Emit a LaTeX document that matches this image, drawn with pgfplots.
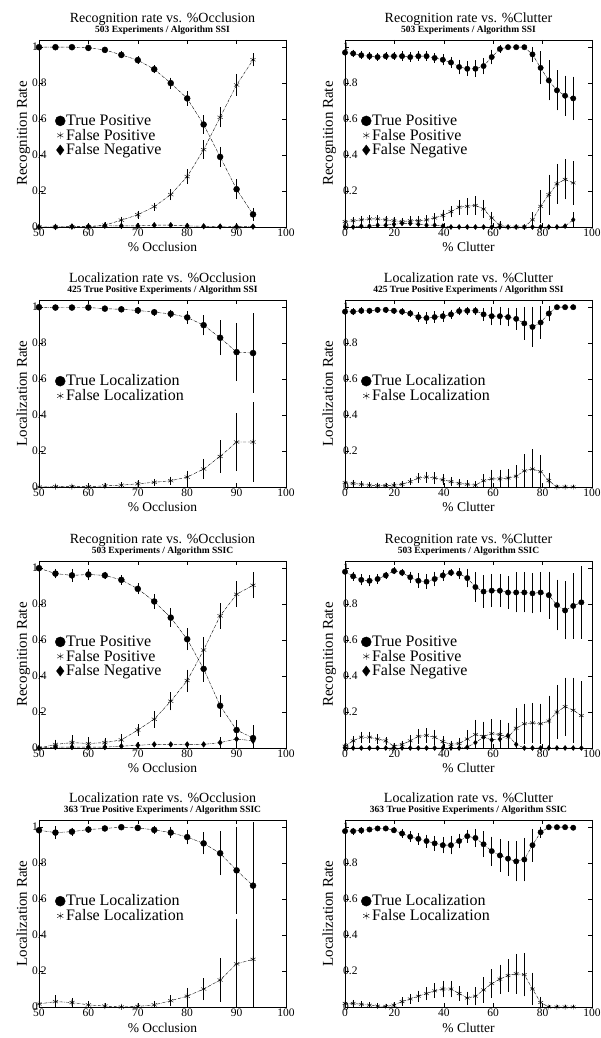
\documentclass[border=0pt]{standalone}
\usepackage{fontspec}
\setmainfont{Liberation Serif}
\usepackage{pgfplots}
\usepackage{pgfplotstable}
\pgfplotsset{compat=1.18}

% Recognition vs occlusion, SSI
\pgfplotstableread{
x tp tpe fp fpe fn fne
50 1.0 0 0 0 0 0
53.33 1.0 0 0 0 0 0
56.67 1.0 0 0 0 0.003 0
60 0.996 0.003 0.002 0.002 0.003 0
63.33 0.985 0.005 0.01 0.005 0.007 0
66.67 0.957 0.008 0.038 0.008 0.006 0
70 0.928 0.01 0.068 0.01 0.006 0
73.33 0.877 0.012 0.113 0.012 0.01 0
76.67 0.80 0.02 0.18 0.02 0.01 0
80 0.715 0.03 0.28 0.03 0.006 0
83.33 0.57 0.04 0.43 0.04 0.004 0
86.67 0.39 0.045 0.61 0.045 0.003 0
90 0.21 0.045 0.79 0.05 0.002 0
93.33 0.07 0.025 0.93 0.025 0.002 0
}\tA
% Recognition vs clutter, SSI
\pgfplotstableread{
x tp tpe fp fpe fn fne
0 0.97 0.01 0.03 0.01 0 0
3.3 0.965 0.01 0.035 0.01 0 0
6.6 0.955 0.01 0.04 0.01 0.005 0
9.9 0.95 0.01 0.045 0.01 0.005 0
13.2 0.945 0.01 0.045 0.01 0.01 0
16.5 0.95 0.01 0.04 0.01 0.01 0
19.8 0.95 0.01 0.035 0.01 0.015 0
23.1 0.95 0.015 0.03 0.01 0.02 0
26.4 0.945 0.015 0.035 0.015 0.02 0
29.7 0.95 0.015 0.035 0.015 0.015 0
33 0.95 0.015 0.04 0.015 0.01 0
36.3 0.94 0.015 0.05 0.015 0.01 0
39.6 0.93 0.02 0.065 0.02 0.005 0
42.9 0.915 0.02 0.085 0.02 0 0
46.2 0.89 0.03 0.11 0.03 0 0
49.5 0.88 0.03 0.115 0.035 0 0
52.8 0.88 0.035 0.12 0.04 0 0
56.1 0.895 0.035 0.10 0.04 0 0
59.4 0.945 0.03 0.05 0.025 0 0
62.7 0.99 0.01 0.01 0.01 0 0
66 1.0 0 0 0 0 0
69.3 1.0 0 0 0 0 0
72.6 1.0 0 0 0 0 0
75.9 0.96 0.03 0.04 0.03 0 0
79.2 0.885 0.08 0.115 0.08 0 0
82.5 0.815 0.1 0.18 0.1 0 0
85.8 0.76 0.1 0.24 0.1 0 0
89.1 0.73 0.1 0.265 0.1 0.005 0
92.4 0.715 0.11 0.245 0.11 0.04 0.03
}\tB
% Localization vs occlusion, SSI
\pgfplotstableread{
x tl tle fl fle
50 1.0 0 0 0
53.33 0.998 0 0.002 0
56.67 0.998 0 0.002 0
60 0.998 0.003 0.002 0.003
63.33 0.992 0.004 0.006 0.004
66.67 0.988 0.005 0.01 0.005
70 0.982 0.007 0.018 0.007
73.33 0.972 0.008 0.026 0.008
76.67 0.963 0.012 0.035 0.012
80 0.943 0.025 0.055 0.025
83.33 0.90 0.045 0.10 0.045
86.67 0.83 0.085 0.17 0.08
90 0.75 0.15 0.25 0.15
93.33 0.745 0.21 0.25 0.21
}\tC
% Localization vs clutter, SSI
\pgfplotstableread{
x tl tle fl fle
0 0.975 0.008 0.025 0.008
3.3 0.975 0.008 0.02 0.008
6.6 0.98 0.008 0.015 0.005
9.9 0.98 0.005 0.01 0.005
13.2 0.985 0.005 0.008 0.005
16.5 0.985 0.005 0.008 0.005
19.8 0.98 0.005 0.01 0.005
23.1 0.975 0.008 0.015 0.008
26.4 0.965 0.01 0.03 0.01
29.7 0.945 0.015 0.05 0.015
33 0.94 0.02 0.055 0.02
36.3 0.945 0.02 0.05 0.02
39.6 0.95 0.02 0.04 0.02
42.9 0.96 0.015 0.03 0.015
46.2 0.978 0.012 0.02 0.012
49.5 0.98 0.01 0.015 0.01
52.8 0.98 0.01 0.01 0.01
56.1 0.96 0.025 0.035 0.025
59.4 0.95 0.04 0.045 0.04
62.7 0.95 0.04 0.045 0.04
66 0.945 0.04 0.05 0.04
69.3 0.935 0.05 0.06 0.05
72.6 0.91 0.08 0.09 0.08
75.9 0.89 0.1 0.10 0.1
79.2 0.915 0.08 0.085 0.08
82.5 0.965 0.03 0.035 0.03
85.8 1.0 0 0 0
89.1 1.0 0 0 0
92.4 1.0 0 0 0
}\tD
% Recognition vs occlusion, SSIC
\pgfplotstableread{
x tp tpe fp fpe fn fne
50 1.0 0 0 0 0 0
53.33 0.97 0.015 0.02 0.015 0.005 0.005
56.67 0.96 0.025 0.03 0.03 0.005 0.005
60 0.965 0.02 0.025 0.025 0.005 0.005
63.33 0.96 0.01 0.03 0.015 0.005 0.005
66.67 0.935 0.015 0.045 0.02 0.01 0.005
70 0.885 0.02 0.10 0.02 0.015 0.005
73.33 0.815 0.03 0.16 0.035 0.02 0.005
76.67 0.725 0.04 0.26 0.04 0.02 0.005
80 0.605 0.05 0.375 0.05 0.02 0.005
83.33 0.44 0.06 0.545 0.06 0.02 0.005
86.67 0.235 0.05 0.735 0.06 0.03 0.02
90 0.10 0.045 0.855 0.06 0.05 0.04
93.33 0.055 0.06 0.905 0.06 0.04 0.05
}\tE
% Recognition vs clutter, SSIC
\pgfplotstableread{
x tp tpe fp fpe fn fne
0 0.98 0.01 0.01 0.01 0 0
3.3 0.955 0.015 0.04 0.015 0 0
6.6 0.935 0.02 0.06 0.02 0 0
9.9 0.93 0.02 0.06 0.02 0 0
13.2 0.94 0.015 0.05 0.015 0 0
16.5 0.96 0.01 0.04 0.01 0 0
19.8 0.985 0.008 0.01 0.008 0 0
23.1 0.975 0.01 0.02 0.01 0 0
26.4 0.95 0.02 0.04 0.02 0 0
29.7 0.93 0.03 0.065 0.03 0 0
33 0.925 0.03 0.07 0.03 0 0
36.3 0.94 0.03 0.06 0.03 0 0
39.6 0.96 0.02 0.035 0.02 0 0
42.9 0.975 0.01 0.02 0.01 0 0
46.2 0.97 0.02 0.025 0.02 0 0
49.5 0.945 0.04 0.05 0.04 0.005 0
52.8 0.895 0.07 0.075 0.07 0.03 0.03
56.1 0.87 0.08 0.065 0.07 0.06 0.04
59.4 0.875 0.08 0.08 0.07 0.045 0.04
62.7 0.875 0.08 0.075 0.07 0.05 0.04
66 0.865 0.08 0.06 0.07 0.07 0.05
69.3 0.865 0.1 0.11 0.1 0.02 0.02
72.6 0.865 0.1 0.135 0.1 0 0
75.9 0.86 0.1 0.14 0.1 0 0
79.2 0.865 0.1 0.135 0.1 0 0
82.5 0.85 0.12 0.15 0.13 0 0
85.8 0.795 0.13 0.20 0.14 0 0
89.1 0.765 0.15 0.23 0.15 0 0
92.4 0.79 0.17 0.21 0.17 0 0
95.7 0.81 0.19 0.18 0.18 0 0
}\tF
% Localization vs occlusion, SSIC
\pgfplotstableread{
x tl tle fl fle
50 0.983 0.015 0.017 0.01
53.33 0.97 0.025 0.03 0.025
56.67 0.975 0.012 0.025 0.015
60 0.987 0.008 0.012 0.008
63.33 0.993 0.005 0.005 0.005
66.67 1.0 0 0 0
70 0.996 0.004 0.003 0.004
73.33 0.985 0.01 0.012 0.01
76.67 0.97 0.02 0.035 0.02
80 0.945 0.03 0.06 0.035
83.33 0.91 0.05 0.10 0.05
86.67 0.855 0.11 0.15 0.11
90 0.76 0.23 0.24 0.24
93.33 0.675 0.34 0.265 0.34
}\tG
% Localization vs clutter, SSIC
\pgfplotstableread{
x tl tle fl fle
0 0.978 0.008 0.02 0.008
3.3 0.978 0.008 0.02 0.008
6.6 0.982 0.006 0.015 0.006
9.9 0.987 0.005 0.01 0.005
13.2 0.993 0.004 0.005 0.004
16.5 0.993 0.004 0.003 0.004
19.8 0.983 0.006 0.01 0.006
23.1 0.965 0.012 0.03 0.012
26.4 0.947 0.018 0.045 0.015
29.7 0.935 0.022 0.06 0.02
33 0.923 0.025 0.075 0.025
36.3 0.91 0.03 0.09 0.03
39.6 0.90 0.035 0.10 0.035
42.9 0.90 0.04 0.10 0.035
46.2 0.923 0.03 0.075 0.03
49.5 0.95 0.025 0.05 0.025
52.8 0.94 0.04 0.06 0.04
56.1 0.905 0.06 0.095 0.06
59.4 0.867 0.07 0.13 0.07
62.7 0.843 0.08 0.155 0.07
66 0.825 0.085 0.175 0.08
69.3 0.81 0.1 0.185 0.1
72.6 0.82 0.11 0.18 0.11
75.9 0.90 0.08 0.10 0.08
79.2 0.972 0.02 0.025 0.02
82.5 1.0 0 0 0
85.8 1.0 0 0 0
89.1 1.0 0 0 0
92.4 0.997 0 0 0
}\tH

\pgfplotsset{
  panel/.style={
    anchor=south west,
    scale only axis, width=247pt, height=187pt,
    ymin=0, ymax=1.04,
    ytick={0,0.2,0.4,0.6,0.8,1},
    yticklabels={0,0.2,0.4,0.6,0.8,1},
    tick align=inside, major tick length=4pt,
    axis line style={line width=0.6pt},
    tick style={line width=0.5pt, black},
    ticklabel style={font=\fontsize{11.5}{11.5}\selectfont},
    /pgf/number format/assume math mode=true,
    xticklabel style={inner sep=0pt, anchor=north, yshift=-1.5pt},
    title style={align=center, inner sep=0pt, anchor=south, at={(axis description cs:0.5,1)}, yshift=-1pt, font=\fontsize{14}{10.5}\selectfont},
    xlabel style={font=\fontsize{13.5}{13.5}\selectfont, at={(axis description cs:0.5,0)}, anchor=base, yshift=-25pt, inner sep=0pt},
    ylabel style={font=\fontsize{15}{15}\selectfont, at={(axis description cs:-0.049,0.5)}, anchor=base, inner sep=0pt},
    legend style={at={(axis description cs:0.065,0.605)}, anchor=north west, draw=none, fill=none,
      font=\fontsize{16}{14}\selectfont, row sep=0.5pt, inner sep=0pt, nodes={inner sep=0.8pt}},
    legend cell align=left,
    legend image code/.code={\draw[##1] plot coordinates {(0.17cm,0cm)};},
  },
  occ/.style={xmin=50, xmax=100, xtick={50,60,70,80,90,100}, xlabel={\% Occlusion},
    yticklabel style={inner sep=0pt, anchor=west, xshift=-7pt}},
  clu/.style={xmin=0, xmax=100, xtick={0,20,40,60,80,100}, xlabel={\% Clutter},
    yticklabel style={inner sep=0pt, anchor=west, xshift=-2pt}},
  pl/.style={black, densely dashdotted, line width=0.4pt, mark options={solid, fill=black}, forget plot,
    error bars/y dir=both, error bars/y explicit,
    error bars/error bar style={solid, line width=0.5pt},
    error bars/error mark options={solid, mark size=2pt, line width=0.5pt}},
}
\newcommand{\sub}[1]{{\fontsize{9.5}{9.5}\bfseries\selectfont #1}}
\newcommand{\legrec}{%
  \addlegendimage{only marks, mark=*, mark size=5pt, black}\addlegendentry{True Positive}
  \addlegendimage{only marks, mark=asterisk, mark size=3.5pt, black}\addlegendentry{False Positive}
  \addlegendimage{only marks, mark=diamond*, mark size=5pt, black}\addlegendentry{False Negative}}
\newcommand{\legloc}{%
  \addlegendimage{only marks, mark=*, mark size=5pt, black}\addlegendentry{True Localization}
  \addlegendimage{only marks, mark=asterisk, mark size=3.5pt, black}\addlegendentry{False Localization}}

\begin{document}
\begin{tikzpicture}
\path[use as bounding box] (0,0) rectangle (601pt,1038pt);

% Row 1
\begin{axis}[panel, occ, at={(39pt,811pt)}, ylabel={Recognition Rate},
  title={Recognition rate vs. \%Occlusion\\\sub{503 Experiments / Algorithm SSI}}]
\legrec
\addplot+[pl, mark=*, mark size=3pt] table[x=x, y=tp, y error=tpe] {\tA};
\addplot+[pl, mark=asterisk, mark size=3pt] table[x=x, y=fp, y error=fpe] {\tA};
\addplot+[pl, mark=diamond*, mark size=2.8pt] table[x=x, y=fn, y error=fne] {\tA};
\end{axis}

\begin{axis}[panel, clu, at={(345pt,811pt)}, ylabel={Recognition Rate},
  title={Recognition rate vs. \%Clutter\\\sub{503 Experiments / Algorithm SSI}}]
\legrec
\addplot+[pl, mark=*, mark size=2.7pt] table[x=x, y=tp, y error=tpe] {\tB};
\addplot+[pl, mark=asterisk, mark size=2.7pt] table[x=x, y=fp, y error=fpe] {\tB};
\addplot+[pl, mark=diamond*, mark size=2.5pt] table[x=x, y=fn, y error=fne] {\tB};
\end{axis}

% Row 2
\begin{axis}[panel, occ, at={(39pt,551pt)}, ylabel={Localization Rate},
  title={Localization rate vs. \%Occlusion\\\sub{425 True Positive Experiments / Algorithm SSI}}]
\legloc
\addplot+[pl, mark=*, mark size=3pt] table[x=x, y=tl, y error=tle] {\tC};
\addplot+[pl, mark=asterisk, mark size=3pt] table[x=x, y=fl, y error=fle] {\tC};
\end{axis}

\begin{axis}[panel, clu, at={(345pt,551pt)}, ylabel={Localization Rate},
  title={Localization rate vs. \%Clutter\\\sub{425 True Positive Experiments / Algorithm SSI}}]
\legloc
\addplot+[pl, mark=*, mark size=2.7pt] table[x=x, y=tl, y error=tle] {\tD};
\addplot+[pl, mark=asterisk, mark size=2.7pt] table[x=x, y=fl, y error=fle] {\tD};
\end{axis}

% Row 3
\begin{axis}[panel, occ, at={(39pt,290pt)}, ylabel={Recognition Rate},
  title={Recognition rate vs. \%Occlusion\\\sub{503 Experiments / Algorithm SSIC}}]
\legrec
\addplot+[pl, mark=*, mark size=3pt] table[x=x, y=tp, y error=tpe] {\tE};
\addplot+[pl, mark=asterisk, mark size=3pt] table[x=x, y=fp, y error=fpe] {\tE};
\addplot+[pl, mark=diamond*, mark size=2.8pt] table[x=x, y=fn, y error=fne] {\tE};
\end{axis}

\begin{axis}[panel, clu, at={(345pt,290pt)}, ylabel={Recognition Rate},
  title={Recognition rate vs. \%Clutter\\\sub{503 Experiments / Algorithm SSIC}}]
\legrec
\addplot+[pl, mark=*, mark size=2.7pt] table[x=x, y=tp, y error=tpe] {\tF};
\addplot+[pl, mark=asterisk, mark size=2.7pt] table[x=x, y=fp, y error=fpe] {\tF};
\addplot+[pl, mark=diamond*, mark size=2.5pt] table[x=x, y=fn, y error=fne] {\tF};
\end{axis}

% Row 4
\begin{axis}[panel, occ, at={(39pt,31pt)}, ylabel={Localization Rate},
  title={Localization rate vs. \%Occlusion\\\sub{363 True Positive Experiments / Algorithm SSIC}}]
\legloc
\addplot+[pl, mark=*, mark size=3pt] table[x=x, y=tl, y error=tle] {\tG};
\addplot+[pl, mark=asterisk, mark size=3pt] table[x=x, y=fl, y error=fle] {\tG};
\end{axis}

\begin{axis}[panel, clu, at={(345pt,31pt)}, ylabel={Localization Rate},
  title={Localization rate vs. \%Clutter\\\sub{363 True Positive Experiments / Algorithm SSIC}}]
\legloc
\addplot+[pl, mark=*, mark size=2.7pt] table[x=x, y=tl, y error=tle] {\tH};
\addplot+[pl, mark=asterisk, mark size=2.7pt] table[x=x, y=fl, y error=fle] {\tH};
\end{axis}
\end{tikzpicture}
\end{document}
